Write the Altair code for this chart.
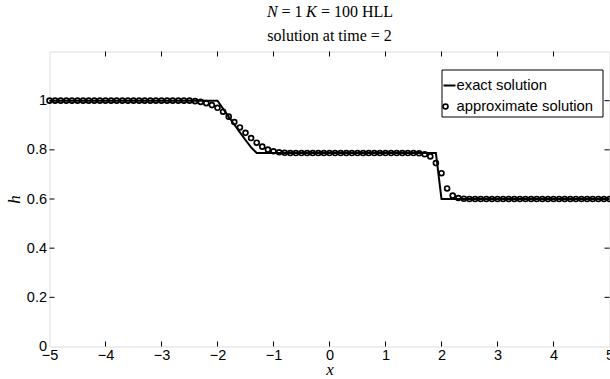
import altair as alt
import pandas as pd

# ---------------- data ----------------
x_approx = [
    -5.0, -4.9, -4.8, -4.7, -4.6, -4.5, -4.4, -4.3, -4.2, -4.1,
    -4.0, -3.9, -3.8, -3.7, -3.6, -3.5, -3.4, -3.3, -3.2, -3.1,
    -3.0, -2.9, -2.8, -2.7, -2.6, -2.5, -2.4, -2.3, -2.2, -2.1,
    -2.0, -1.9, -1.8, -1.7, -1.6, -1.5, -1.4, -1.3, -1.2, -1.1,
    -1.0, -0.9, -0.8, -0.7, -0.6, -0.5, -0.4, -0.3, -0.2, -0.1,
    0.0, 0.1, 0.2, 0.3, 0.4, 0.5, 0.6, 0.7, 0.8, 0.9,
    1.0, 1.1, 1.2, 1.3, 1.4, 1.5, 1.6, 1.7, 1.8, 1.9,
    2.0, 2.1, 2.2, 2.3, 2.4, 2.5, 2.6, 2.7, 2.8, 2.9,
    3.0, 3.1, 3.2, 3.3, 3.4, 3.5, 3.6, 3.7, 3.8, 3.9,
    4.0, 4.1, 4.2, 4.3, 4.4, 4.5, 4.6, 4.7, 4.8, 4.9,
    5.0,
]
h_approx = [
    1.0, 1.0, 1.0, 1.0, 1.0, 1.0, 1.0, 1.0, 1.0, 1.0,
    1.0, 1.0, 1.0, 1.0, 1.0, 1.0, 1.0, 1.0, 1.0, 1.0,
    1.0, 1.0, 1.0, 1.0, 1.0, 1.0, 0.998, 0.995, 0.99, 0.982,
    0.971, 0.955, 0.935, 0.913, 0.891, 0.869, 0.848, 0.829, 0.813, 0.801,
    0.794, 0.79, 0.788, 0.787, 0.787, 0.787, 0.787, 0.787, 0.787, 0.787,
    0.787, 0.787, 0.787, 0.787, 0.787, 0.787, 0.787, 0.787, 0.787, 0.787,
    0.787, 0.787, 0.787, 0.787, 0.787, 0.787, 0.786, 0.782, 0.773, 0.746,
    0.705, 0.643, 0.614, 0.604, 0.601, 0.6, 0.6, 0.6, 0.6, 0.6,
    0.6, 0.6, 0.6, 0.6, 0.6, 0.6, 0.6, 0.6, 0.6, 0.6,
    0.6, 0.6, 0.6, 0.6, 0.6, 0.6, 0.6, 0.6, 0.6, 0.6,
    0.6,
]
x_exact = [-5.0, -2.0, -1.9, -1.8, -1.7, -1.6, -1.5, -1.4, -1.3, 1.9, 2.0, 5.0]
h_exact = [1.0, 1.0, 0.967, 0.934, 0.903, 0.871, 0.840, 0.81, 0.787, 0.787, 0.6, 0.6]

x_ticks = [-5, -4, -3, -2, -1, 0, 1, 2, 3, 4, 5]
y_ticks = [0, 0.2, 0.4, 0.6, 0.8, 1.0]
x_inner_ticks = [-4, -3, -2, -1, 0, 1, 2, 3, 4]
y_inner_ticks = [0.2, 0.4, 0.6, 0.8, 1.0]

# title pieces: (text, italic?) for line 1, then line 2
title_line1 = [("N", True), ("= 1", False), ("K", True), ("= 100 HLL", False)]
title_line2 = "solution at time = 2"
legend_labels = ["exact solution", "approximate solution"]

# ---------------- layout ----------------
W, H = 560, 295
XS = alt.Scale(domain=[-5, 5], nice=False, zero=False)
YS = alt.Scale(domain=[0, 1.2], nice=False, zero=False)

approx_df = pd.DataFrame({"x": x_approx, "h": h_approx})
exact_df = pd.DataFrame({"x": x_exact, "h": h_exact})
xt_df = pd.DataFrame({"x": x_inner_ticks})
yt_df = pd.DataFrame({"h": y_inner_ticks})
one = pd.DataFrame({"a": [0]})

x_axis = alt.Axis(
    values=x_ticks, ticks=False, domain=False, grid=False,
    labelExpr="datum.value < 0 ? format(datum.value, 'd') + '\u2002' : format(datum.value, 'd')",
    labelFont="Liberation Sans", labelFontSize=14.5, labelColor="black",
    labelPadding=2, labelFlush=False,
    title="x", titleFont="Liberation Serif", titleFontStyle="italic",
    titleFontWeight="normal", titleFontSize=17, titleColor="black",
    titleBaseline="alphabetic", titleY=28,
)
y_axis = alt.Axis(
    values=y_ticks, format="~g", ticks=False, domain=False, grid=False,
    labelFont="Liberation Sans", labelFontSize=14.5, labelColor="black",
    labelPadding=3, labelFlush=False,
    title="h", titleFont="Liberation Serif", titleFontStyle="italic",
    titleFontWeight="normal", titleFontSize=17, titleColor="black",
    titleAngle=270, titleBaseline="alphabetic", titleX=-30,
)

X = alt.X("x:Q", scale=XS, axis=x_axis)
Y = alt.Y("h:Q", scale=YS, axis=y_axis)

exact_line = alt.Chart(exact_df).mark_line(color="black", strokeWidth=2).encode(x=X, y=Y)
approx_pts = alt.Chart(approx_df).mark_point(
    shape="circle", filled=False, color="black", strokeWidth=1.7, size=24, opacity=1
).encode(x=X, y=Y)

tick_style = dict(color="black", strokeWidth=1)
bottom_ticks = alt.Chart(xt_df).mark_rule(**tick_style).encode(
    x=X, y=alt.value(H), y2=alt.value(H - 5))
top_ticks = alt.Chart(xt_df).mark_rule(**tick_style).encode(
    x=X, y=alt.value(0), y2=alt.value(5))
left_ticks = alt.Chart(yt_df).mark_rule(**tick_style).encode(
    y=Y, x=alt.value(0), x2=alt.value(5))
right_ticks = alt.Chart(yt_df).mark_rule(**tick_style).encode(
    y=Y, x=alt.value(W), x2=alt.value(W - 5))

# legend box
lg_box = alt.Chart(one).mark_rect(fill="white", stroke="black", strokeWidth=1).encode(
    x=alt.value(392.5), x2=alt.value(553.5), y=alt.value(18.5), y2=alt.value(65.5))
lg_line = alt.Chart(one).mark_rule(color="black", strokeWidth=2).encode(
    x=alt.value(394), x2=alt.value(406), y=alt.value(34))
lg_pt = alt.Chart(one).mark_point(
    shape="circle", filled=False, color="black", strokeWidth=1.7, size=24, opacity=1
).encode(x=alt.value(396), y=alt.value(55))
lg_text = dict(align="left", baseline="middle", font="Liberation Sans", fontSize=14.8, color="black")
lg_t1 = alt.Chart(one).mark_text(**lg_text).encode(
    x=alt.value(407), y=alt.value(34), text=alt.value(legend_labels[0]))
lg_t2 = alt.Chart(one).mark_text(**lg_text).encode(
    x=alt.value(407), y=alt.value(55), text=alt.value(legend_labels[1]))

# title (two lines, math italics for N and K)
TF = 16
t_x = [217.5, 232.0, 256.5, 271.5]
title_layers = []
for (txt, ital), xx in zip(title_line1, t_x):
    title_layers.append(
        alt.Chart(one).mark_text(
            align="left", baseline="middle", font="Liberation Serif", fontSize=TF,
            fontStyle="italic" if ital else "normal", color="black",
        ).encode(x=alt.value(xx), y=alt.value(-40), text=alt.value(txt))
    )
title_layers.append(
    alt.Chart(one).mark_text(
        align="center", baseline="middle", font="Liberation Serif", fontSize=TF, color="black",
    ).encode(x=alt.value(W / 2), y=alt.value(-16), text=alt.value(title_line2))
)

chart = alt.layer(
    exact_line, approx_pts, bottom_ticks, top_ticks, left_ticks, right_ticks,
    lg_box, lg_line, lg_pt, lg_t1, lg_t2, *title_layers,
).properties(
    width=W, height=H,
    autosize=alt.AutoSizeParams(type="none"),
    padding={"left": 49.5, "top": 51.5, "right": 0, "bottom": 32},
).configure_view(stroke="black", strokeWidth=1.2).configure(background="white")

chart.save("out.html", embed_options={"renderer": "svg", "actions": False})
